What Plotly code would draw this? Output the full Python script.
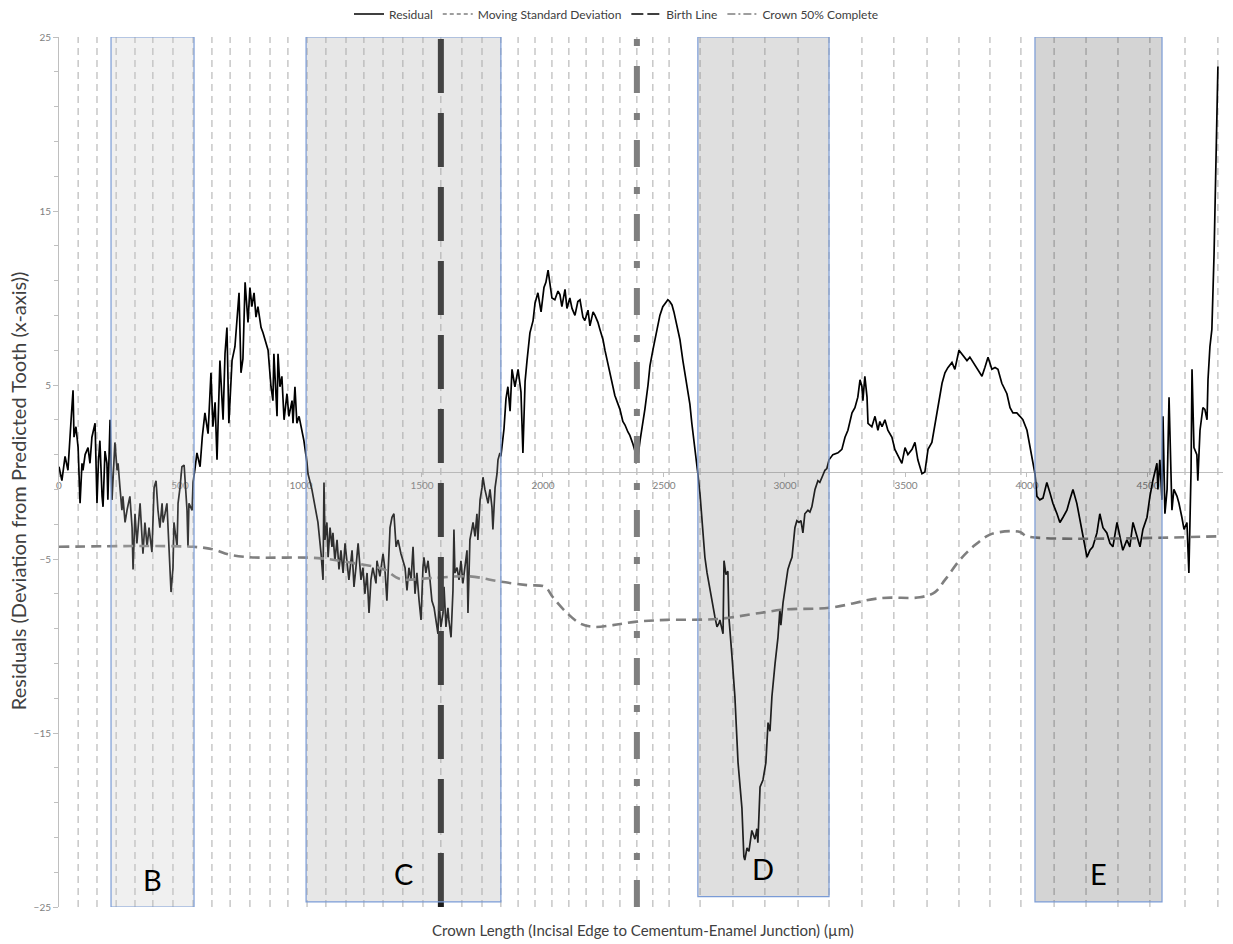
import plotly.graph_objects as go

# Residual of crown length vs. predicted tooth (x in µm, y = deviation)
residual_xy = [
    (0, 0.3), (12, -0.5), (25, 0.9), (37, 0.1), (50, 3.0), (58, 4.7), (62, 2.0), (70, 2.6),
    (79, 1.4), (87, -1.8), (95, 0.5), (99, 0.1), (108, 1.0), (116, 1.3), (120, 1.4), (128, 0.5),
    (136, 2.0), (149, 2.8), (157, -1.8), (163, 0.6), (169, 1.8), (178, -1.4), (182, -2.0), (190, 1.2),
    (198, 0.5), (202, -1.6), (207, 0.8), (211, 3.0), (219, -1.6), (231, 1.7), (240, 0.1), (244, 0.5),
    (252, -0.9), (260, -2.2), (264, -1.4), (273, -2.9), (281, -2.2), (293, -1.4), (302, -3.2), (306, -5.6),
    (314, -2.4), (322, -4.1), (335, -1.8), (347, -4.7), (355, -2.9), (364, -4.3), (372, -3.2), (384, -4.6),
    (393, -0.9), (401, -0.5), (409, -2.2), (417, -3.2), (426, -1.8), (430, -2.9), (438, -2.4), (446, -1.8),
    (455, -4.5), (463, -6.9), (471, -5.5), (475, -2.9), (488, -4.3), (492, -1.8), (500, -0.9), (508, 0.3),
    (517, 0.4), (529, -2.2), (533, -4.3), (537, -1.8), (550, -2.2), (554, -0.6), (562, 0.2), (570, 1.1),
    (583, 0.3), (592, 2.0), (603, 3.4), (616, 2.2), (628, 5.7), (636, 2.6), (645, 4.0), (653, 0.7),
    (665, 6.4), (678, 3.0), (686, 6.8), (694, 8.3), (702, 2.8), (715, 6.4), (727, 7.2), (736, 8.9),
    (744, 10.3), (752, 5.7), (760, 6.5), (769, 10.9), (777, 9.1), (781, 8.6), (789, 10.6), (797, 9.5),
    (806, 10.3), (814, 8.9), (822, 9.5), (835, 8.3), (843, 8.0), (855, 7.4), (864, 7.0), (876, 4.9),
    (884, 4.1), (888, 6.8), (901, 3.2), (905, 6.8), (913, 4.9), (921, 5.5), (930, 3.0), (942, 4.5),
    (950, 3.2), (963, 4.1), (967, 2.8), (975, 4.9), (983, 2.8), (992, 3.2), (1004, 2.4), (1012, 1.8),
    (1025, 0.5), (1029, -0.1), (1045, -1.0), (1058, -2.0), (1070, -2.9), (1083, -4.7), (1091, -6.2),
    (1095, -0.6), (1099, -3.9), (1107, -2.9), (1112, -4.9), (1120, -3.2), (1128, -4.3), (1132, -3.5),
    (1140, -5.1), (1149, -3.9), (1157, -5.6), (1165, -4.5), (1174, -5.8), (1182, -4.1), (1190, -5.2),
    (1198, -6.2), (1211, -4.5), (1219, -6.6), (1227, -5.5), (1236, -4.1), (1248, -6.2), (1256, -5.5),
    (1264, -7.0), (1273, -5.8), (1281, -8.1), (1289, -6.2), (1297, -5.5), (1310, -6.4), (1314, -5.1),
    (1326, -6.0), (1339, -4.7), (1347, -5.6), (1355, -7.4), (1364, -4.9), (1368, -3.2), (1376, -2.6),
    (1384, -2.4), (1393, -4.3), (1401, -3.9), (1413, -4.7), (1421, -5.1), (1430, -5.5), (1438, -6.8),
    (1446, -5.5), (1455, -6.2), (1463, -4.3), (1471, -7.0), (1479, -5.8), (1488, -7.4), (1496, -8.5),
    (1504, -5.5), (1508, -4.9), (1516, -5.8), (1525, -5.1), (1533, -6.2), (1541, -7.4), (1550, -7.8),
    (1558, -8.5), (1566, -9.3), (1570, -7.4), (1578, -8.9), (1587, -8.1), (1591, -6.6), (1599, -8.9),
    (1607, -7.8), (1611, -8.5), (1620, -9.5), (1628, -6.8), (1632, -3.3), (1636, -5.8), (1645, -5.5),
    (1653, -6.2), (1661, -5.1), (1669, -6.4), (1678, -5.5), (1686, -4.5), (1690, -8.1), (1698, -3.9),
    (1706, -3.3), (1711, -2.9), (1719, -3.7), (1727, -2.4), (1731, -3.9), (1740, -1.6), (1748, -0.9),
    (1752, -0.3), (1760, -1.0), (1769, -1.6), (1773, -1.8), (1781, -1.0), (1789, -2.0), (1793, -3.3),
    (1802, -0.9), (1810, -0.1), (1814, 0.7), (1822, 1.1), (1826, 0.9), (1839, 2.5), (1847, 4.2),
    (1855, 4.9), (1864, 3.5), (1872, 5.9), (1884, 4.9), (1897, 5.9), (1909, 4.6), (1917, 1.1),
    (1926, 5.2), (1934, 6.4), (1946, 8.0), (1959, 8.7), (1967, 9.7), (1979, 10.3), (1992, 9.2),
    (2004, 10.6), (2012, 10.9), (2021, 11.6), (2029, 10.7), (2037, 10.0), (2049, 9.9), (2062, 10.4),
    (2070, 10.2), (2078, 9.5), (2091, 10.5), (2099, 9.4), (2111, 10.0), (2120, 9.4), (2132, 9.0),
    (2144, 9.8), (2153, 9.9), (2165, 8.9), (2173, 8.7), (2186, 9.3), (2194, 8.4), (2207, 9.2),
    (2215, 9.0), (2227, 8.6), (2235, 8.2), (2248, 7.6), (2256, 7.0), (2268, 6.2), (2277, 5.6),
    (2289, 4.9), (2297, 4.4), (2310, 3.9), (2318, 3.6), (2330, 2.9), (2339, 2.7), (2351, 2.3),
    (2359, 2.1), (2372, 1.6), (2380, 1.2), (2384, 0.5), (2392, 0.8), (2401, 1.8), (2413, 2.8),
    (2421, 3.6), (2434, 5.0), (2442, 6.1), (2454, 7.0), (2463, 7.6), (2475, 8.5), (2483, 9.0),
    (2495, 9.5), (2504, 9.7), (2516, 9.9), (2524, 9.8), (2533, 9.6), (2541, 9.2), (2549, 8.7),
    (2558, 8.2), (2566, 7.6), (2578, 6.4), (2587, 5.6), (2599, 4.6), (2607, 3.9), (2615, 2.8),
    (2624, 1.8), (2632, 1.0), (2640, -0.1), (2649, -1.3), (2657, -2.6), (2669, -4.9), (2678, -5.8),
    (2690, -6.8), (2702, -7.8), (2710, -8.3), (2719, -8.9), (2727, -8.7), (2731, -8.5), (2739, -8.9),
    (2744, -9.3), (2748, -5.1), (2756, -5.9), (2764, -5.7), (2768, -8.3), (2781, -10.6), (2793, -12.9),
    (2806, -16.7), (2814, -18.0), (2822, -19.3), (2830, -22.1), (2834, -22.3), (2843, -21.6),
    (2851, -21.8), (2863, -20.6), (2876, -21.1), (2884, -20.5), (2888, -21.3), (2897, -18.1),
    (2909, -17.7), (2921, -16.7), (2930, -14.4), (2938, -14.9), (2946, -12.9), (2959, -11.0),
    (2971, -9.5), (2979, -7.9), (2983, -8.8), (2992, -7.5), (3000, -6.8), (3012, -5.6), (3021, -5.2),
    (3029, -4.9), (3041, -3.2), (3049, -2.8), (3058, -2.9), (3066, -2.8), (3074, -3.5), (3082, -2.4),
    (3095, -2.2), (3103, -2.3), (3111, -2.0), (3124, -1.0), (3136, -0.5), (3144, -0.6), (3153, -0.3),
    (3165, 0.1), (3173, 0.2), (3182, 0.7), (3198, 1.0), (3219, 1.1), (3235, 1.3), (3248, 2.0),
    (3260, 2.4), (3277, 3.4), (3289, 3.7), (3301, 4.3), (3310, 5.3), (3318, 4.9), (3322, 4.1),
    (3330, 5.5), (3339, 4.3), (3343, 2.8), (3359, 2.6), (3372, 3.2), (3384, 2.4), (3392, 2.9),
    (3401, 2.6), (3413, 3.0), (3425, 2.4), (3442, 2.0), (3454, 1.3), (3467, 0.9), (3483, 0.5),
    (3496, 1.4), (3508, 1.0), (3525, 1.3), (3537, 1.7), (3549, 0.7), (3566, -0.1), (3578, 0.0),
    (3591, 1.3), (3607, 1.7), (3620, 2.8), (3632, 3.7), (3649, 5.1), (3661, 5.7), (3673, 6.0),
    (3690, 6.3), (3702, 5.9), (3719, 7.0), (3735, 6.7), (3752, 6.4), (3764, 6.6), (3777, 6.3),
    (3793, 6.0), (3814, 5.5), (3826, 6.0), (3839, 6.6), (3855, 5.9), (3868, 6.0), (3880, 5.9),
    (3896, 5.1), (3917, 4.5), (3930, 3.7), (3942, 3.4), (3958, 3.4), (3971, 3.2), (3983, 3.0),
    (4000, 2.4), (4012, 1.4), (4025, 0.5), (4033, -0.1), (4041, -1.4), (4053, -1.6), (4066, -1.5),
    (4082, -0.6), (4095, -1.2), (4107, -1.8), (4124, -2.4), (4136, -2.9), (4149, -2.6), (4165, -2.2),
    (4177, -1.6), (4190, -1.0), (4206, -1.8), (4219, -2.8), (4231, -3.7), (4248, -4.9), (4260, -4.5),
    (4272, -4.3), (4289, -3.5), (4301, -2.4), (4314, -3.2), (4330, -3.5), (4343, -4.1), (4355, -4.3),
    (4372, -2.9), (4384, -3.7), (4396, -4.5), (4413, -3.9), (4425, -4.3), (4438, -2.9), (4454, -3.7),
    (4467, -4.3), (4479, -3.3), (4496, -2.6), (4508, -1.4), (4520, -0.5), (4537, 0.5), (4541, -1.0),
    (4549, 0.7), (4558, -1.6), (4562, 3.2), (4570, -2.4), (4579, -1.0), (4587, 4.3), (4599, -2.2),
    (4607, -1.0), (4620, -1.4), (4628, -1.8), (4640, -2.6), (4649, -3.3), (4661, -2.9), (4669, -5.8),
    (4678, 0.1), (4682, 5.9), (4690, 1.4), (4702, 1.0), (4706, -0.5), (4715, 2.4), (4727, 3.7),
    (4735, 3.6), (4744, 3.0), (4748, 5.3), (4756, 7.2), (4764, 8.2), (4773, 12.5), (4781, 18.5),
    (4789, 23.3),
]
residual_x = [p[0] for p in residual_xy]
residual_y = [p[1] for p in residual_xy]

# Moving standard deviation of the residual (drawn as a negative band limit)
msd_x = [0, 554, 637, 703, 789, 1070, 1202, 1343, 1409, 1533, 1698, 1822, 1934, 2008, 2041, 2099,
         2153, 2207, 2289, 2388, 2512, 2719, 2897, 3000, 3186, 3393, 3558, 3620, 3661, 3723, 3785,
         3847, 3930, 3971, 3983, 4000, 4785]
msd_y = [-4.3, -4.3, -4.45, -4.75, -4.9, -4.95, -5.2, -5.6, -6.15, -6.1, -6.0, -6.3, -6.5, -6.6, -7.2,
         -8.1, -8.7, -8.9, -8.8, -8.6, -8.5, -8.45, -8.1, -7.9, -7.8, -7.25, -7.2, -6.9, -6.2, -5.05,
         -4.2, -3.6, -3.4, -3.45, -3.55, -3.7, -3.7]

# Perikymata positions along the crown (µm)
perikymata_x = [79, 157, 236, 314, 388, 471, 554, 632, 707, 789, 872, 946, 1025, 1103, 1186, 1260,
                1339, 1421, 1504, 1578, 1665, 1748, 1826, 1897, 1967, 2037, 2107, 2178, 2248, 2318,
                2388, 2454, 2521, 2649, 2785, 2917, 3054, 3182, 3318, 3450, 3587, 3719, 3847, 3975,
                4112, 4244, 4376, 4508, 4653, 4789]

birth_line_x = 1578
crown_half_x = 2388

# Stress zones
zone_labels = ["B", "C", "D", "E"]
zone_start = [215, 1021, 2640, 4033]
zone_end = [558, 1826, 3182, 4558]
zone_bottom = [-25, -24.7, -24.4, -24.7]
zone_fill = ["rgba(200,200,200,0.27)", "rgba(169,169,169,0.28)",
             "rgba(128,128,128,0.25)", "rgba(0,0,0,0.17)"]

x_ticks = [0, 500, 1000, 1500, 2000, 2500, 3000, 3500, 4000, 4500]
y_range = [-25, 25]
x_range = [0, 4810]

FONT = "Lato, 'Open Sans', sans-serif"

fig = go.Figure()

fig.add_trace(go.Scatter(x=residual_x, y=residual_y, mode="lines", showlegend=False,
                         line=dict(color="#000000", width=1.7)))
fig.add_trace(go.Scatter(x=msd_x, y=msd_y, mode="lines", showlegend=False, line_shape="spline",
                         line=dict(color="#7f7f7f", width=2.6, dash="10px,6px")))
fig.add_trace(go.Scatter(x=[birth_line_x, birth_line_x], y=y_range, mode="lines", showlegend=False,
                         line=dict(color="#1c1c1c", width=6, dash="54px,20px")))
fig.add_trace(go.Scatter(x=[crown_half_x, crown_half_x], y=y_range, mode="lines", showlegend=False,
                         line=dict(color="#7f7f7f", width=6, dash="27px,20px,7px,20px")))

# Legend entries with thin sample lines
legend_items = [
    ("Residual", "#000000", "solid"),
    ("Moving Standard Deviation", "#7f7f7f", "4px,3px"),
    ("Birth Line", "#000000", "12px,4px"),
    ("Crown 50% Complete", "#7f7f7f", "8px,3px,2px,3px"),
]
for name, color, dash in legend_items:
    fig.add_trace(go.Scatter(x=[None], y=[None], mode="lines", name=name,
                             line=dict(color=color, width=1.6, dash=dash)))

# Perikymata as dashed vertical guides
for px in perikymata_x:
    fig.add_shape(type="line", x0=px, x1=px, y0=y_range[0], y1=y_range[1], xref="x", yref="y",
                  layer="below", line=dict(color="#ababab", width=1, dash="7px,5px"))

# Stress zones overlaid on the series
for lab, x0, x1, yb, fc in zip(zone_labels, zone_start, zone_end, zone_bottom, zone_fill):
    fig.add_shape(type="rect", x0=x0, x1=x1, y0=yb, y1=y_range[1], xref="x", yref="y",
                  layer="above", fillcolor=fc, line=dict(color="#7a9bd6", width=1.2))
    fig.add_annotation(x=(x0 + x1) / 2, y=yb + 1.6, text=lab, showarrow=False,
                       font=dict(family=FONT, size=29, color="#000000"), yanchor="middle")

fig.add_annotation(text="Residuals (Deviation from Predicted Tooth (x-axis))", xref="paper", yref="paper",
                   x=-0.0352, y=0.478, textangle=-90, showarrow=False, xanchor="center", yanchor="middle",
                   font=dict(family=FONT, size=20, color="#404040"))
fig.add_annotation(text="Crown Length (Incisal Edge to Cementum-Enamel Junction) (µm)", xref="paper",
                   yref="paper", x=0.502, y=-0.0264, showarrow=False, xanchor="center", yanchor="middle",
                   font=dict(family=FONT, size=15, color="#404040"))

fig.update_layout(
    width=1233, height=944,
    margin=dict(l=59, r=10, t=37, b=37, autoexpand=False),
    paper_bgcolor="white", plot_bgcolor="white",
    font=dict(family=FONT, color="#595959"),
    legend=dict(orientation="h", x=0.5, xanchor="center", xref="container", y=1 - 14 / 944,
                yref="container", yanchor="middle",
                font=dict(family=FONT, size=12, color="#404040"), itemwidth=30,
                bgcolor="rgba(0,0,0,0)"),
    xaxis=dict(range=x_range, anchor="free", position=0.5, showgrid=False, zeroline=False,
               showline=True, linecolor="#bfbfbf", linewidth=1, tickmode="array", tickvals=x_ticks,
               ticks="outside", ticklen=4, tickcolor="#bfbfbf",
               tickfont=dict(family=FONT, size=10, color="#7f7f7f"), layer="below traces"),
    yaxis=dict(range=y_range, showgrid=False, zeroline=False, showline=True, linecolor="#bfbfbf",
               linewidth=1, tickmode="linear", tick0=-25, dtick=10, ticks="outside", ticklen=5,
               tickcolor="#bfbfbf", tickfont=dict(family=FONT, size=10, color="#7f7f7f"),
               minor=dict(tick0=-25, dtick=2, ticks="outside", ticklen=4, tickcolor="#bfbfbf")),
)

fig.write_html("out.html")
